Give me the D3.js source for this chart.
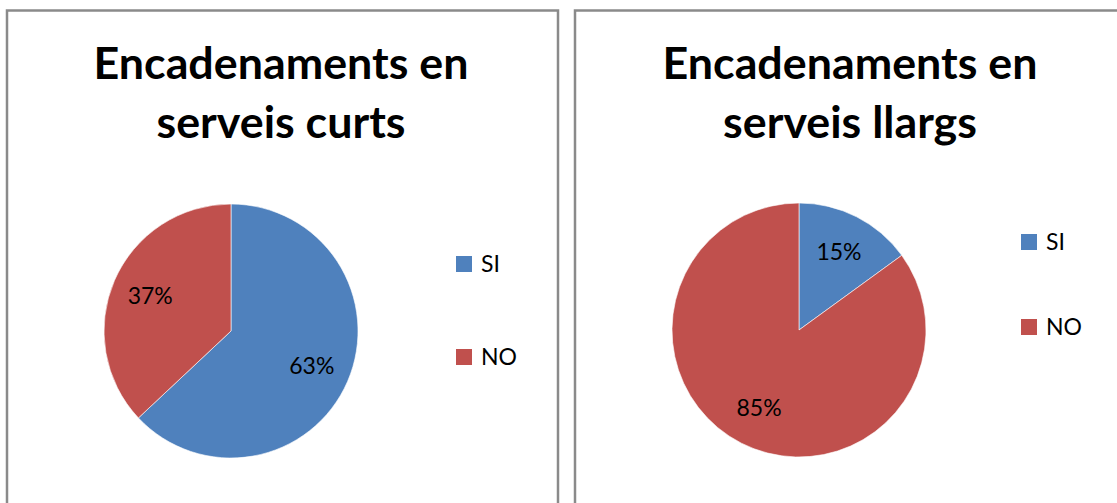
<!DOCTYPE html>
<html>
<head>
<meta charset="utf-8">
<script src="https://cdn.jsdelivr.net/npm/d3@7"></script>
<style>
  html, body { margin: 0; padding: 0; background: #fff; }
  svg { display: block; }
</style>
</head>
<body>
<svg id="chart" width="1117" height="503"></svg>
<script>
// ---- data ----
const categories = ["SI", "NO"];
const colors = ["#4F81BD", "#C0504D"];
const shortValues = [63, 37];
const longValues = [15, 85];
const shortTitle = ["Encadenaments en", "serveis curts"];
const longTitle = ["Encadenaments en", "serveis llargs"];

// ---- layout ----
const svg = d3.select("#chart");
const font = "Lato, 'Open Sans', sans-serif";

const panels = [
  { x: 7, w: 551, values: shortValues, title: shortTitle, cx: 231, cy: 331, titleX: 281, legendX: 456, legendY: [256, 349] },
  { x: 575, w: 560, values: longValues, title: longTitle, cx: 799, cy: 330, titleX: 850, legendX: 1021, legendY: [234, 319] }
];

const r = 127;
const pie = d3.pie().sort(null).value(d => d);
const arc = d3.arc().innerRadius(0).outerRadius(r);
const labelArc = d3.arc().innerRadius(88).outerRadius(88);
const color = d3.scaleOrdinal().domain(categories).range(colors);

panels.forEach(p => {
  const g = svg.append("g");
  g.append("rect")
    .attr("x", p.x).attr("y", 10.5)
    .attr("width", p.w).attr("height", 520)
    .attr("fill", "#fff")
    .attr("stroke", "#8a8a8a").attr("stroke-width", 2.5);

  // title
  p.title.forEach((line, i) => {
    const t = g.append("text")
      .attr("x", p.titleX).attr("y", 79 + i * 59)
      .attr("text-anchor", "middle")
      .attr("font-family", font).attr("font-weight", "bold")
      .attr("font-size", 40)
      .attr("fill", "#000")
      .text(line);
    if (i === 0) {
      const w = t.node().getComputedTextLength();
      p.fs = 40 * 375 / w;
    }
  });
  g.selectAll("text").attr("font-size", p.fs);

  const data = pie(p.values);
  const pg = g.append("g").attr("transform", `translate(${p.cx},${p.cy})`);
  pg.selectAll("path").data(data).enter().append("path")
    .attr("d", arc)
    .attr("fill", (d, i) => color(categories[i]))
    .attr("stroke", "#fff").attr("stroke-width", 0.6);

  pg.selectAll("text.lbl").data(data).enter().append("text")
    .attr("class", "lbl")
    .attr("transform", d => `translate(${labelArc.centroid(d)})`)
    .attr("text-anchor", "middle")
    .attr("dy", "0.35em")
    .attr("font-family", font).attr("font-size", 23)
    .attr("fill", "#000")
    .text(d => d.data + "%");

  // legend
  categories.forEach((c, i) => {
    g.append("rect")
      .attr("x", p.legendX).attr("y", p.legendY[i])
      .attr("width", 16).attr("height", 16)
      .attr("fill", color(c));
    g.append("text")
      .attr("x", p.legendX + 25).attr("y", p.legendY[i] + 16)
      .attr("font-family", font).attr("font-size", 23)
      .attr("fill", "#000")
      .text(c);
  });
});
</script>
</body>
</html>
